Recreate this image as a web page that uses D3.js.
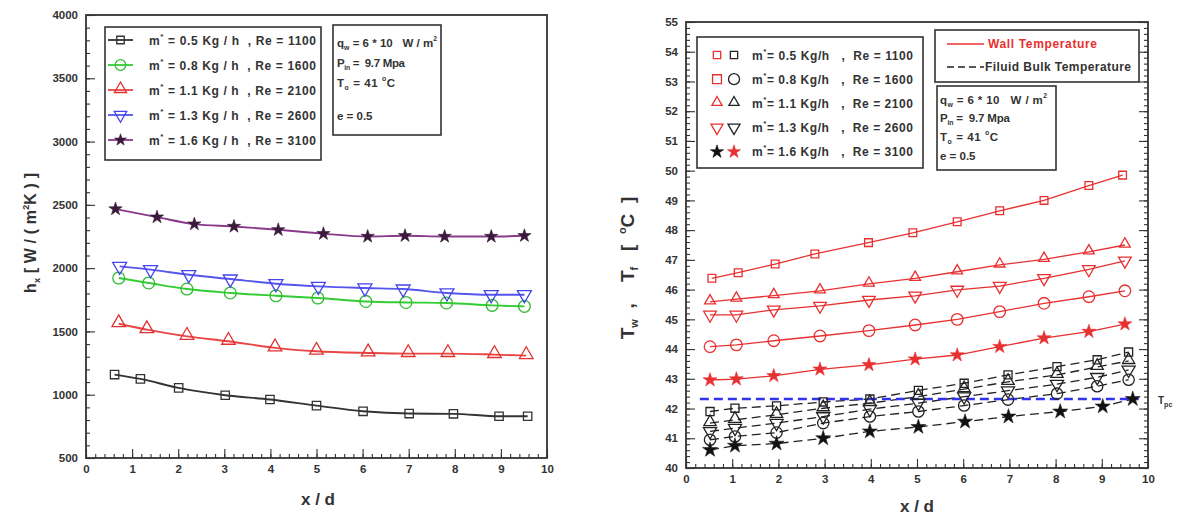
<!DOCTYPE html>
<html><head><meta charset="utf-8">
<script src="https://cdn.jsdelivr.net/npm/d3@7"></script>
<style>
body{margin:0;background:#fff}
text{font-family:"Liberation Sans",Arial,sans-serif;font-weight:bold;fill:#333;white-space:pre}
</style></head>
<body><svg id="c" width="1184" height="517"></svg>
<script>
// ---------- DATA ----------
const xTickVals = [0,1,2,3,4,5,6,7,8,9,10];
const hTickVals = [500,1000,1500,2000,2500,3000,3500,4000];
const tTickVals = [40,41,42,43,44,45,46,47,48,49,50,51,52,53,54,55];

// Left chart: h_x vs x/d
const leftX05 = [0.62,1.18,2.01,3.02,3.99,5.0,6.01,7.01,7.97,8.96,9.58];
const leftH05 = [1159,1125,1054,996,962,914,869,851,849,830,830];
const leftX08 = [0.71,1.36,2.19,3.13,4.12,5.03,6.07,6.94,7.82,8.81,9.51];
const leftH08 = [1922,1883,1835,1804,1782,1764,1737,1729,1725,1706,1698];
const leftX11 = [0.71,1.32,2.19,3.09,4.10,5.0,6.12,6.99,7.85,8.86,9.55];
const leftH11 = [1561,1514,1461,1422,1370,1343,1330,1325,1325,1317,1309];
const leftX13 = [0.73,1.40,2.23,3.13,4.12,5.04,6.05,6.88,7.83,8.79,9.51];
const leftH13 = [2014,1988,1948,1914,1877,1856,1843,1835,1804,1790,1790];
const leftX16 = [0.64,1.54,2.35,3.21,4.17,5.15,6.11,6.92,7.78,8.79,9.51];
const leftH16 = [2467,2403,2348,2329,2303,2272,2250,2256,2250,2250,2256];
const leftLabels = ["0.5 Kg / h  , Re = 1100","0.8 Kg / h  , Re = 1600","1.1 Kg / h  , Re = 2100","1.3 Kg / h  , Re = 2600","1.6 Kg / h  , Re = 3100"];

// Right chart: wall temperature (red, solid)
const xWallSq = [0.56,1.13,1.93,2.79,3.95,4.91,5.87,6.79,7.75,8.72,9.45];
const xWall = [0.52,1.09,1.9,2.9,3.96,4.96,5.87,6.79,7.75,8.72,9.5];
const wallSq = [46.38,46.57,46.86,47.2,47.58,47.91,48.28,48.65,49.0,49.5,49.85];
const wallTri = [45.59,45.68,45.8,45.96,46.19,46.38,46.6,46.83,47.02,47.27,47.5];
const wallDown = [45.15,45.15,45.32,45.45,45.65,45.79,45.99,46.12,46.38,46.68,46.97];
const wallCirc = [44.08,44.14,44.28,44.44,44.62,44.81,45.0,45.26,45.54,45.76,45.96];
const wallStar = [42.96,42.99,43.1,43.32,43.47,43.66,43.8,44.08,44.37,44.59,44.84];
// Right chart: fluid bulk temperature (black, dashed)
const xBulk = [0.52,1.06,1.96,2.97,3.98,5.03,6.02,6.97,8.03,8.9,9.58];
const xBulkStar = [0.52,1.06,1.96,2.97,3.98,5.03,6.04,6.98,8.1,9.02,9.67];
const bulkSq = [41.9,42.01,42.09,42.22,42.32,42.61,42.85,43.13,43.41,43.64,43.9];
const bulkTri = [41.51,41.62,41.79,42.01,42.18,42.4,42.65,42.9,43.13,43.4,43.6];
const bulkDown = [41.23,41.34,41.51,41.73,41.98,42.18,42.4,42.6,42.82,43.05,43.3];
const bulkCirc = [40.95,41.06,41.19,41.51,41.73,41.9,42.1,42.3,42.5,42.75,42.97];
const bulkStar = [40.61,40.75,40.82,41.0,41.23,41.38,41.56,41.73,41.9,42.07,42.32];
const tpc = 42.32;
const tpcRange = [0.3,9.8];
const rightLabels = ["0.5 Kg/h   ,  Re = 1100","0.8 Kg/h   ,  Re = 1600","1.1 Kg/h   ,  Re = 2100","1.3 Kg/h   ,  Re = 2600","1.6 Kg/h   ,  Re = 3100"];

// ---------- DRAW ----------
const svg = d3.select("#c");
const xL = d3.scaleLinear([0,10],[86,547]);
const yL = d3.scaleLinear([500,4000],[458,15]);
const xR = d3.scaleLinear([0,10],[686,1148]);
const yR = d3.scaleLinear([40,55],[468,22]);

const AX = "#333";
function sym(type, size){
  const t = {sq:d3.symbolSquare, ci:d3.symbolCircle, tr:d3.symbolTriangle, dn:d3.symbolTriangle, st:d3.symbolStar}[type];
  return d3.symbol().type(t).size(size)();
}
function marker(g, type, x, y, size, stroke, fill){
  g.append("path").attr("d", sym(type,size))
   .attr("transform", `translate(${x},${y})` + (type==="dn" ? " rotate(180)" : (type==="tr"?" translate(0,-1)":"")))
   .attr("fill", fill).attr("stroke", stroke).attr("stroke-width", type==="st"?0.6:1.3);
}

function frame(xs, ys, minorX, minorY, mirror){
  const g = svg.append("g");
  const [x0,x1] = xs.range(), [y0,y1] = ys.range();
  g.append("g").attr("transform",`translate(0,${y0})`).call(d3.axisBottom(xs).tickValues(minorX).tickSize(-4).tickFormat(""));
  g.append("g").attr("transform",`translate(${x0},0)`).call(d3.axisLeft(ys).tickValues(minorY).tickSize(-4).tickFormat(""));
  g.append("g").attr("transform",`translate(0,${y0})`).call(d3.axisBottom(xs).tickValues(xTickVals).tickSize(-9).tickPadding(7).tickFormat(d3.format("d")));
  g.append("g").attr("transform",`translate(${x0},0)`).call(d3.axisLeft(ys).tickValues(ys===yL?hTickVals:tTickVals).tickSize(-9).tickPadding(8).tickFormat(d3.format("d")));
  if (mirror){
    g.append("g").attr("transform",`translate(${x1},0)`).call(d3.axisRight(ys).tickValues(minorY).tickSize(-4).tickFormat(""));
    g.append("g").attr("transform",`translate(${x1},0)`).call(d3.axisRight(ys).tickValues(tTickVals).tickSize(-9).tickFormat(""));
  }
  g.selectAll(".domain").remove();
  g.selectAll(".tick line").attr("stroke",AX).attr("stroke-width",1.1);
  g.selectAll(".tick text").attr("font-size",11.5).attr("fill","#555").style("font-family",'"Liberation Sans",Arial,sans-serif').style("font-weight","bold");
  g.append("rect").attr("x",x0).attr("y",y1).attr("width",x1-x0).attr("height",y0-y1).attr("fill","none").attr("stroke",AX).attr("stroke-width",1.8);
  return g;
}
const minorX = d3.range(0,10.01,0.2).map(v=>+v.toFixed(1));
const minorH = d3.range(500,4001,100);
const minorT = d3.range(40,55.01,0.2).map(v=>+v.toFixed(1));

frame(xL, yL, minorX, minorH, false);
frame(xR, yR, minorX, minorT, true);

// ---------- LEFT SERIES ----------
const leftSeries = [
  {x:leftX05, y:leftH05, t:"sq", c:"#333", s:70, f:"none", mc:"#333"},
  {x:leftX08, y:leftH08, t:"ci", c:"#33cc33", s:110, f:"none", mc:"#33bb33"},
  {x:leftX11, y:leftH11, t:"tr", c:"#e84545", s:80, f:"none", mc:"#e03030"},
  {x:leftX13, y:leftH13, t:"dn", c:"#5555ee", s:85, f:"none", mc:"#4444ee"},
  {x:leftX16, y:leftH16, t:"st", c:"#8a3a8a", s:55, f:"#3a1a3a", mc:"#3a1a3a"}
];
const lineL = d3.line().x(d=>xL(d[0])).y(d=>yL(d[1])).curve(d3.curveMonotoneX);
leftSeries.forEach(s=>{
  const pts = s.x.map((v,i)=>[v,s.y[i]]);
  svg.append("path").attr("d",lineL(pts)).attr("fill","none").attr("stroke",s.c).attr("stroke-width",1.9);
  const g = svg.append("g");
  pts.forEach(p=>marker(g,s.t,xL(p[0]),yL(p[1]),s.s,s.mc,s.f));
});

// left legend
svg.append("rect").attr("x",105).attr("y",27).attr("width",216).attr("height",133).attr("fill","#fff").attr("stroke","#333").attr("stroke-width",1.6);
leftSeries.forEach((s,i)=>{
  const yy = 40 + i*25;
  svg.append("line").attr("x1",108).attr("x2",133).attr("y1",yy).attr("y2",yy).attr("stroke",s.c).attr("stroke-width",1.8);
  marker(svg.append("g"), s.t, 120.5, yy, s.s*0.8, s.mc, s.f);
  const t = svg.append("text").attr("x",149).attr("y",yy+4.5).attr("font-size",12).attr("textLength",167).attr("lengthAdjust","spacing");
  t.append("tspan").text("m");
  t.append("tspan").attr("dy",-6).attr("font-size",8).text("*");
  t.append("tspan").attr("dy",6).text(" = " + leftLabels[i]);
});

// annotation boxes
function annot(x, ys, fs, lens){
  let t = svg.append("text").attr("x",x).attr("y",ys[0]).attr("font-size",fs).attr("textLength",lens[0]);
  t.append("tspan").text("q");
  t.append("tspan").attr("dy",3).attr("font-size",fs*0.6).text("w");
  t.append("tspan").attr("dy",-3).text(" = 6 * 10   W / m");
  t.append("tspan").attr("dy",-6).attr("font-size",fs*0.6).text("2");
  t = svg.append("text").attr("x",x).attr("y",ys[1]).attr("font-size",fs).attr("textLength",lens[1]);
  t.append("tspan").text("P");
  t.append("tspan").attr("dy",3).attr("font-size",fs*0.6).text("in");
  t.append("tspan").attr("dy",-3).text(" =  9.7 Mpa");
  t = svg.append("text").attr("x",x).attr("y",ys[2]).attr("font-size",fs).attr("textLength",lens[2]);
  t.append("tspan").text("T");
  t.append("tspan").attr("dy",3).attr("font-size",fs*0.6).text("o");
  t.append("tspan").attr("dy",-3).text(" = 41 ");
  t.append("tspan").attr("dy",-6).attr("font-size",fs*0.6).text("o");
  t.append("tspan").attr("dy",6).text("C");
  svg.append("text").attr("x",x).attr("y",ys[3]).attr("font-size",fs).text("e = 0.5");
}
svg.append("rect").attr("x",333).attr("y",25).attr("width",108).attr("height",110).attr("fill","#fff").attr("stroke","#333").attr("stroke-width",1.6);
annot(337, [47,67,87,120], 11.5, [100,68,58]);

// left axis titles
const tl = svg.append("text").attr("transform","translate(36,233) rotate(-90)").attr("text-anchor","middle").attr("font-size",16).attr("textLength",120);
tl.append("tspan").text("h");
tl.append("tspan").attr("dy",4).attr("font-size",9).text("x");
tl.append("tspan").attr("dy",-4).text(" [ W / ( m");
tl.append("tspan").attr("dy",-7).attr("font-size",9).text("2");
tl.append("tspan").attr("dy",7).text("K ) ]");
svg.append("text").attr("x",318).attr("y",505).attr("text-anchor","middle").attr("font-size",17).text("x / d");

// ---------- RIGHT SERIES ----------
const lineR = d3.line().x(d=>xR(d[0])).y(d=>yR(d[1]));
const RED = "#e83030";
const wallSeries = [
  {x:xWallSq, y:wallSq, t:"sq", s:60},
  {x:xWall, y:wallCirc, t:"ci", s:105},
  {x:xWall, y:wallTri, t:"tr", s:50},
  {x:xWall, y:wallDown, t:"dn", s:70},
  {x:xWall, y:wallStar, t:"st", s:60}
];
const bulkSeries = [
  {x:xBulk, y:bulkSq, t:"sq", s:65},
  {x:xBulk, y:bulkCirc, t:"ci", s:100},
  {x:xBulk, y:bulkTri, t:"tr", s:65},
  {x:xBulk, y:bulkDown, t:"dn", s:75},
  {x:xBulkStar, y:bulkStar, t:"st", s:70}
];
bulkSeries.forEach(s=>{
  const pts = s.x.map((v,i)=>[v,s.y[i]]);
  svg.append("path").attr("d",lineR(pts)).attr("fill","none").attr("stroke","#222").attr("stroke-width",1.3).attr("stroke-dasharray","9,5");
});
svg.append("line").attr("x1",xR(tpcRange[0])).attr("x2",xR(tpcRange[1])).attr("y1",yR(tpc)).attr("y2",yR(tpc))
  .attr("stroke","#3333ee").attr("stroke-width",2.6).attr("stroke-dasharray","9,5");
bulkSeries.forEach(s=>{
  const g = svg.append("g");
  s.x.forEach((v,i)=>marker(g,s.t,xR(v),yR(s.y[i]),s.s,"#222",s.t==="st"?"#111":"none"));
});
wallSeries.forEach(s=>{
  const pts = s.x.map((v,i)=>[v,s.y[i]]);
  svg.append("path").attr("d",lineR(pts)).attr("fill","none").attr("stroke",RED).attr("stroke-width",1.3);
  const g = svg.append("g");
  pts.forEach(p=>marker(g,s.t,xR(p[0]),yR(p[1]),s.s,RED,s.t==="st"?RED:"none"));
});
const tp = svg.append("text").attr("x",1158).attr("y",404).attr("font-size",10);
tp.append("tspan").text("T");
tp.append("tspan").attr("dy",3).attr("font-size",7).text("pc");

// right legend (series)
svg.append("rect").attr("x",697).attr("y",37).attr("width",226).attr("height",131).attr("fill","#fff").attr("stroke","#333").attr("stroke-width",1.6);
const legSyms = [["sq","sq"],["sq","ci"],["tr","tr"],["dn","dn"],["st","st"]];
legSyms.forEach((p,i)=>{
  const yy = 55 + i*24.2;
  const g = svg.append("g");
  const first = i===4 ? ["#111","#111"] : [RED,"none"];
  const second = i===4 ? [RED,RED] : ["#222","none"];
  marker(g,p[0],717,yy,wallSeries[i].s*(i===1?0.75:0.9),first[0],first[1]);
  marker(g,p[1],734,yy,wallSeries[i].s*0.9,second[0],second[1]);
  const t = svg.append("text").attr("x",752).attr("y",yy+4.5).attr("font-size",12).attr("textLength",161).attr("lengthAdjust","spacing");
  t.append("tspan").text("m");
  t.append("tspan").attr("dy",-6).attr("font-size",8).text("*");
  t.append("tspan").attr("dy",6).text("= " + rightLabels[i]);
});

// right legend (line types)
svg.append("rect").attr("x",935).attr("y",30).attr("width",204).attr("height",52).attr("fill","#fff").attr("stroke","#333").attr("stroke-width",1.6);
svg.append("line").attr("x1",947).attr("x2",984).attr("y1",44).attr("y2",44).attr("stroke",RED).attr("stroke-width",1.3);
svg.append("text").attr("x",988).attr("y",48).attr("font-size",12).attr("textLength",109).style("fill",RED).text("Wall Temperature");
svg.append("line").attr("x1",947).attr("x2",984).attr("y1",67).attr("y2",67).attr("stroke","#222").attr("stroke-width",1.5).attr("stroke-dasharray","7,4");
svg.append("text").attr("x",985).attr("y",71).attr("font-size",12).attr("textLength",146).text("Filuid Bulk Temperature");

// right annotation box
svg.append("rect").attr("x",937).attr("y",86).attr("width",119).attr("height",84).attr("fill","#fff").attr("stroke","#333").attr("stroke-width",1.6);
annot(940, [104,122,141,160], 11.5, [107,70,58]);

// right axis titles
const tr = svg.append("text").attr("transform","translate(634,268) rotate(-90)").attr("text-anchor","middle").attr("font-size",19);
tr.append("tspan").text("T");
tr.append("tspan").attr("dy",4).attr("font-size",11).text("w");
tr.append("tspan").attr("dy",-4).text("  ,    T");
tr.append("tspan").attr("dy",4).attr("font-size",11).text("f");
tr.append("tspan").attr("dy",-4).text("   [  ");
tr.append("tspan").attr("dy",-8).attr("font-size",11).text("o");
tr.append("tspan").attr("dy",8).text("C  ]");
svg.append("text").attr("x",917).attr("y",512).attr("text-anchor","middle").attr("font-size",17).text("x / d");
</script></body></html>
